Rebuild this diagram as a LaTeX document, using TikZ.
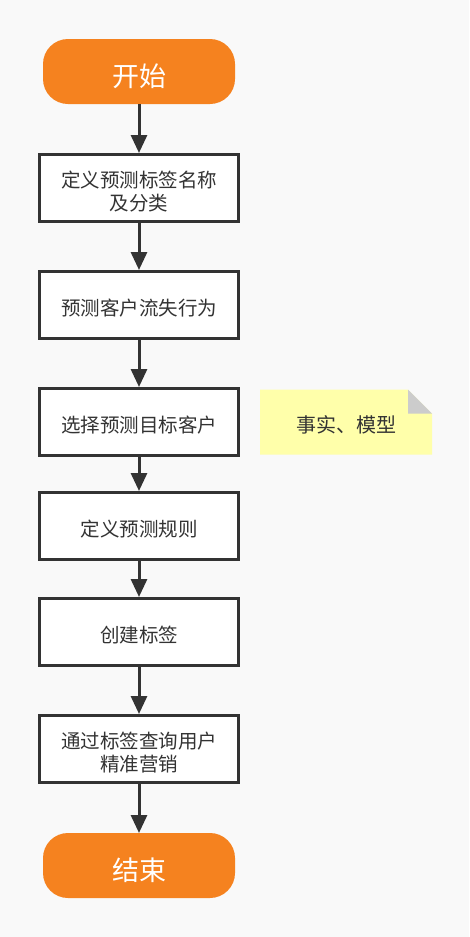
\documentclass[tikz,border=0pt]{standalone}
\usepackage{fontspec}
\usepackage{tikz}
\usetikzlibrary{arrows.meta,positioning,backgrounds}
\newfontfamily\cjk{Noto Sans CJK SC}
\definecolor{bgcol}{HTML}{F9F9F9}
\definecolor{termcol}{HTML}{F5821F}
\definecolor{inkcol}{HTML}{333333}
\definecolor{memocol}{HTML}{FFFFAA}
\definecolor{foldcol}{HTML}{CCCCCC}
\tikzstyle{terminal}=[fill=termcol,text=white,rounded corners=25pt,minimum width=192pt,minimum height=65pt,outer sep=0pt,text height=30pt,text depth=0pt,font=\cjk\fontsize{27pt}{32pt}\selectfont]
\tikzstyle{stepbox}=[draw=inkcol,fill=white,line width=3pt,minimum width=199pt,minimum height=67pt,text=inkcol,align=center,text height=21pt,text depth=0pt,font=\cjk\fontsize{19.5pt}{23pt}\selectfont]
\tikzstyle{twoline}=[text height=45pt]
\tikzstyle{memo}=[minimum width=172pt,minimum height=65pt,outer sep=0pt,text=inkcol,text height=20pt,text depth=0pt,font=\cjk\fontsize{20pt}{24pt}\selectfont]
\tikzstyle{flow}=[draw=inkcol,line width=3pt,-{Triangle[length=18pt,width=16pt]}]
\begin{document}
\begin{tikzpicture}[x=1pt,y=1pt]
\node[terminal] (start) at (139,-71.5) {开始};
\node[stepbox,twoline,below=49pt of start] (name) {定义预测标签名称\\及分类};
\node[stepbox,below=47pt of name] (churn) {预测客户流失行为};
\node[stepbox,below=47pt of churn] (target) {选择预测目标客户};
\node[stepbox,below=34pt of target] (rule) {定义预测规则};
\node[stepbox,below=36pt of rule] (create) {创建标签};
\node[stepbox,twoline,below=47pt of create] (query) {通过标签查询用户\\精准营销};
\node[terminal,below=49pt of query] (stop) {结束};
\node[memo,right=20pt of target] (fact) {事实、模型};
\foreach \a/\b in {start/name,name/churn,churn/target,target/rule,rule/create,create/query,query/stop}
  \draw[flow] (\a) -- (\b);
\begin{scope}[on background layer]
\fill[bgcol] (0,0) rectangle (469,-937);
\fill[memocol] (fact.south west) -- (fact.north west) -- ([xshift=-24pt]fact.north east) -- ([yshift=-24pt]fact.north east) -- (fact.south east) -- cycle;
\fill[foldcol] ([xshift=-24pt]fact.north east) -- ([yshift=-24pt]fact.north east) -- ([xshift=-24pt,yshift=-24pt]fact.north east) -- cycle;
\end{scope}
\end{tikzpicture}
\end{document}
